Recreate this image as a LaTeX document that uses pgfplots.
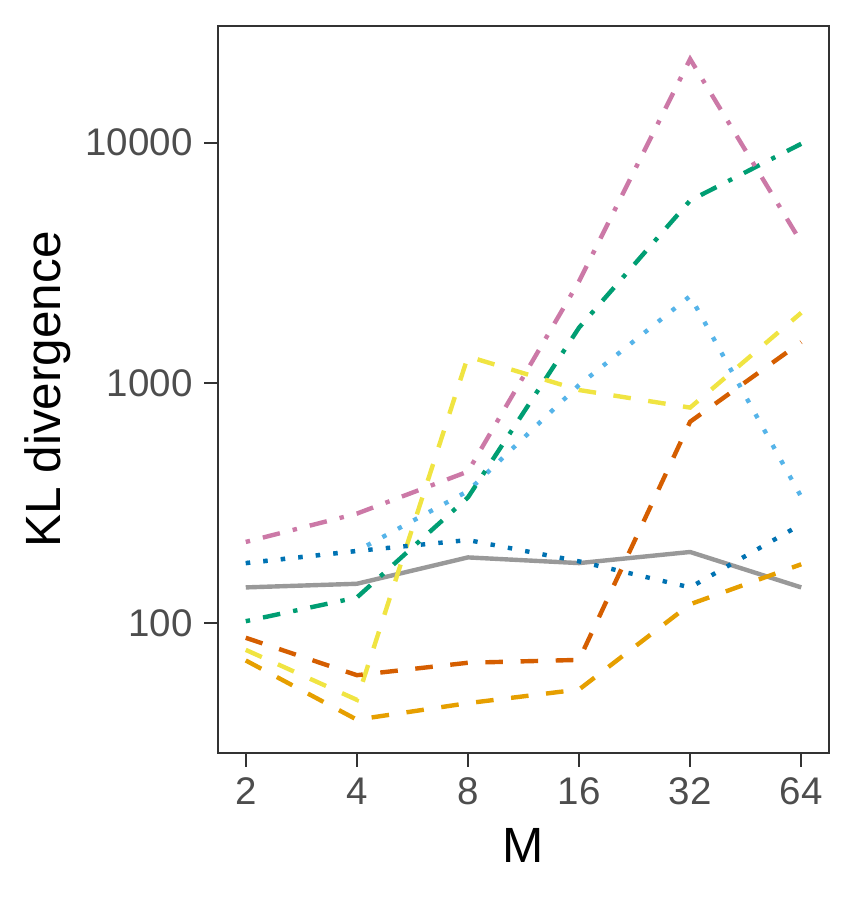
\documentclass[border=0pt]{standalone}
\usepackage{pgfplots}
\pgfplotsset{compat=1.18}
\usepackage{fontspec}
\setmainfont{Liberation Sans}
\definecolor{cgray}{HTML}{999999}
\definecolor{corange}{HTML}{E69F00}
\definecolor{csky}{HTML}{56B4E9}
\definecolor{cgreen}{HTML}{009E73}
\definecolor{cyellow}{HTML}{F0E442}
\definecolor{cblue}{HTML}{0072B2}
\definecolor{cverm}{HTML}{D55E00}
\definecolor{cpink}{HTML}{CC79A7}
\definecolor{frame}{HTML}{333333}
\definecolor{ticktext}{HTML}{4D4D4D}
\begin{document}
\begin{tikzpicture}
\useasboundingbox (-109pt,-73.5pt) rectangle (318.5pt,376.5pt);
\begin{axis}[
  at={(0,0)}, anchor=south west,
  scale only axis,
  width=305.5pt, height=363.5pt,
  xmin=0.75, xmax=6.25,
  ymode=log, log basis y=10,
  ymin=28.84, ymax=30620,
  xtick={1,2,3,4,5,6},
  xticklabels={2,4,8,16,32,64},
  ytick={100,1000,10000},
  yticklabels={100,1000,10000},
  minor tick num=0,
  minor ytick={},
  tick pos=left,
  tick align=outside,
  major tick length=6.85pt,
  every tick/.style={draw=frame, line width=1.2pt},
  axis line style={draw=frame, line width=1.2pt},
  /pgf/number format/assume math mode=true,
  ticklabel style={font=\fontsize{19.25}{22}\selectfont, text=ticktext, inner sep=0pt},
  xticklabel style={anchor=north, yshift=-5.5pt},
  yticklabel style={anchor=east, xshift=-5.65pt},
  xlabel={M},
  ylabel={KL divergence},
  label style={font=\fontsize{24.75}{28}\selectfont, inner sep=0pt},
  xlabel style={at={(axis description cs:0.5,-0.15089)}, anchor=base},
  ylabel style={at={(axis description cs:-0.25745,0.5)}, anchor=base},
  every axis plot/.append style={line width=2.2pt, no markers},
]
% gray solid
\addplot[cgray, solid] coordinates {(1,141) (2,146) (3,188) (4,178) (5,198) (6,141)};
% orange dashed
\addplot[corange, dash pattern=on 8.8pt off 8.8pt] coordinates {(1,70) (2,39.7) (3,46.5) (4,53) (5,120) (6,176)};
% sky blue dotted
\addplot[csky, dash pattern=on 2.2pt off 6.6pt] coordinates {(1,178) (2,200) (3,355) (4,981) (5,2300) (6,336)};
% green dotdash
\addplot[cgreen, dash pattern=on 2.2pt off 6.6pt on 8.8pt off 6.6pt] coordinates {(1,102) (2,128) (3,334) (4,1700) (5,5750) (6,9900)};
% yellow dashed
\addplot[cyellow, dash pattern=on 8.8pt off 8.8pt] coordinates {(1,77.5) (2,48) (3,1290) (4,935) (5,790) (6,1960)};
% blue dotted
\addplot[cblue, dash pattern=on 2.2pt off 6.6pt] coordinates {(1,178) (2,200) (3,222) (4,181) (5,141) (6,258)};
% vermilion dashed
\addplot[cverm, dash pattern=on 8.8pt off 8.8pt] coordinates {(1,87) (2,60.8) (3,68.5) (4,70.4) (5,690) (6,1480)};
% pink dotdash
\addplot[cpink, dash pattern=on 2.2pt off 6.6pt on 8.8pt off 6.6pt] coordinates {(1,218) (2,286) (3,428) (4,2650) (5,22300) (6,3850)};
\end{axis}
\end{tikzpicture}
\end{document}
